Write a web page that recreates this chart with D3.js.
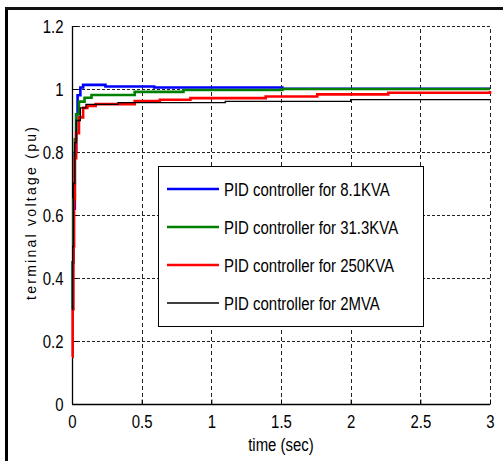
<!DOCTYPE html>
<html><head><meta charset="utf-8">
<script src="https://cdn.jsdelivr.net/npm/d3@7"></script>
<style>body{margin:0;background:#fff}svg{display:block}</style>
</head><body>
<script>
const seriesNames = ["PID controller for 8.1KVA","PID controller for 31.3KVA","PID controller for 250KVA","PID controller for 2MVA"];
const seriesColors = ["#0000ff","#008000","#ff0000","#000000"];
const tBlue  = [0, 0.005, 0.01, 0.02, 0.03, 0.04, 0.06, 0.08, 0.24, 0.59, 1.51, 3];
const vBlue  = [0.30, 0.45, 0.62, 0.80, 0.92, 0.98, 1.005, 1.013, 1.008, 1.005, 1.001, 1.001];
const tGreen = [0, 0.005, 0.01, 0.02, 0.03, 0.05, 0.09, 0.14, 0.45, 0.8, 1.51, 3];
const vGreen = [0.30, 0.45, 0.65, 0.84, 0.92, 0.96, 0.972, 0.981, 0.991, 0.997, 1.0, 1.0];
const tRed   = [0, 0.005, 0.01, 0.015, 0.02, 0.03, 0.05, 0.08, 0.11, 0.17, 0.45, 0.63, 0.85, 1.39, 1.76, 2.27, 3];
const vRed   = [0.15, 0.30, 0.50, 0.65, 0.78, 0.86, 0.91, 0.94, 0.946, 0.952, 0.962, 0.966, 0.971, 0.976, 0.983, 0.988, 0.994];
const tBlack = [0, 0.005, 0.01, 0.02, 0.03, 0.06, 0.1, 0.33, 1.1, 2.0, 3];
const vBlack = [0.30, 0.50, 0.70, 0.83, 0.90, 0.94, 0.951, 0.957, 0.961, 0.966, 0.966];
const xTicks = [0, 0.5, 1, 1.5, 2, 2.5, 3];
const yTicks = [0, 0.2, 0.4, 0.6, 0.8, 1, 1.2];
const xLabel = "time (sec)";
const yLabel = "terminal voltage (pu)";

const times = [tBlue, tGreen, tRed, tBlack];
const vals = [vBlue, vGreen, vRed, vBlack];
const widths = [2.6, 2.6, 2.6, 1.3];

const W = 503, H = 461;
const svg = d3.select("body").append("svg").attr("width", W).attr("height", H);
svg.append("rect").attr("width", W).attr("height", H).attr("fill", "#fff");

const x = d3.scaleLinear().domain([0, 3]).range([72, 490]);
const y = d3.scaleLinear().domain([0, 1.2]).range([404, 26]);
const FONT = "'Liberation Sans', Arial, sans-serif";
const SQ = 0.83;
function squeeze(sel) {
  sel.each(function () {
    const L = this.getComputedTextLength();
    this.setAttribute("textLength", L * SQ);
    this.setAttribute("lengthAdjust", "spacingAndGlyphs");
  });
}

// outer frame (left and top)
svg.append("line").attr("x1", 6.5).attr("x2", 6.5).attr("y1", 7).attr("y2", H).attr("stroke", "#000").attr("stroke-width", 3);
svg.append("line").attr("x1", 5).attr("x2", W).attr("y1", 8.5).attr("y2", 8.5).attr("stroke", "#111").attr("stroke-width", 3);

// grid
const grid = svg.append("g").attr("stroke", "#222").attr("stroke-width", 1);
grid.selectAll("line.v").data(xTicks.filter(d => d > 0)).join("line")
  .attr("stroke-dasharray", "4,3")
  .attr("x1", d => Math.round(x(d)) + 0.5).attr("x2", d => Math.round(x(d)) + 0.5)
  .attr("y1", y(0)).attr("y2", y(1.2));
grid.selectAll("line.h").data(yTicks.filter(d => d > 0)).join("line")
  .attr("stroke-dasharray", "3,2")
  .attr("x1", x(0)).attr("x2", x(3))
  .attr("y1", d => Math.round(y(d)) + 0.5).attr("y2", d => Math.round(y(d)) + 0.5);

// axes
const xAxis = d3.axisBottom(x).tickValues(xTicks).tickSize(-5).tickPadding(10).tickFormat(d3.format("~g"));
const yAxis = d3.axisLeft(y).tickValues(yTicks).tickSize(-5).tickPadding(9).tickFormat(d3.format("~g"));
const gx = svg.append("g").attr("transform", `translate(0,${Math.round(y(0)) + 0.5})`).call(xAxis);
const gy = svg.append("g").attr("transform", `translate(${Math.round(x(0)) + 0.5},0)`).call(yAxis);
[gx, gy].forEach(g => {
  g.select(".domain").attr("stroke", "#000").attr("stroke-width", 1.3).attr("d", g === gx ? `M${x(0)},0H${x(3)}` : `M0,${y(0)}V${y(1.2)}`);
  g.selectAll(".tick line").attr("stroke", "#000");
  g.selectAll(".tick text").attr("font-family", FONT).attr("font-size", 18).attr("fill", "#000");
});
gx.selectAll(".tick text").attr("dy", "0.71em").attr("y", 11);
gy.selectAll(".tick text").attr("x", -9).attr("dy", "0.36em");
squeeze(gx.selectAll(".tick text"));
squeeze(gy.selectAll(".tick text"));

// lines
const line = d3.line().x(d => x(d[0])).y(d => y(d[1])).curve(d3.curveStepAfter);
times.forEach((ts, i) => {
  const pts = ts.map((t, j) => [t, vals[i][j]]);
  svg.append("path").datum(pts).attr("d", line).attr("fill", "none")
    .attr("stroke", seriesColors[i]).attr("stroke-width", widths[i]);
});

// legend
const lg = svg.append("g");
lg.append("rect").attr("x", 158.5).attr("y", 166.5).attr("width", 265).attr("height", 160)
  .attr("fill", "#fff").attr("stroke", "#000").attr("stroke-width", 1);
const rows = [189, 227, 265, 303];
seriesNames.forEach((n, i) => {
  lg.append("line").attr("x1", 167).attr("x2", 219).attr("y1", rows[i]).attr("y2", rows[i])
    .attr("stroke", seriesColors[i]).attr("stroke-width", widths[i]);
  lg.append("text").attr("x", 224).attr("y", rows[i] + 7).attr("font-family", FONT).attr("font-size", 18)
    .attr("fill", "#000").text(n).call(squeeze);
});

// axis labels
svg.append("text").attr("x", 281).attr("y", 451).attr("text-anchor", "middle")
  .attr("font-family", FONT).attr("font-size", 18).attr("fill", "#000").text(xLabel).call(squeeze);
svg.append("text").attr("transform", "translate(36,213.5) rotate(-90)").attr("text-anchor", "middle")
  .attr("font-family", FONT).attr("font-size", 14).attr("fill", "#000")
  .attr("textLength", 173).attr("lengthAdjust", "spacing").text(yLabel);
</script>
</body></html>
